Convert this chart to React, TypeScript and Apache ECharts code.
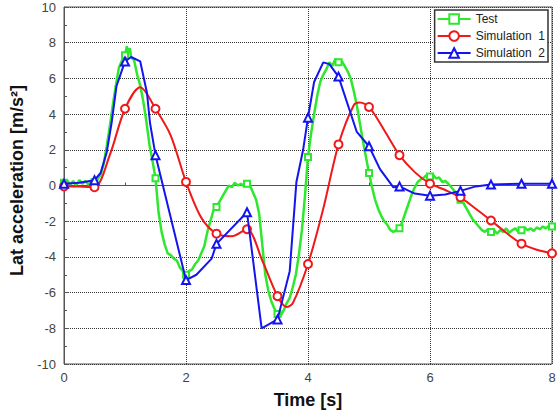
import React, { useEffect, useRef } from "react";
import * as echarts from "echarts";

// Measured lateral acceleration (dense, noisy)
const testTime = [
  0, 0.05, 0.1, 0.15, 0.2, 0.25, 0.3, 0.35, 0.4, 0.45, 0.5, 0.55, 0.6, 0.65, 0.7, 0.75, 0.8, 0.85, 0.9, 0.95,
  1.0, 1.03, 1.05, 1.08, 1.1, 1.15, 1.2, 1.25, 1.3, 1.35, 1.4, 1.45, 1.5, 1.55, 1.6, 1.65, 1.7, 1.75, 1.8, 1.85,
  1.9, 1.95, 2.0, 2.05, 2.1, 2.15, 2.2, 2.25, 2.3, 2.35, 2.4, 2.45, 2.5, 2.55, 2.6, 2.65, 2.7, 2.75, 2.8, 2.85,
  2.9, 2.95, 3.0, 3.05, 3.1, 3.15, 3.2, 3.25, 3.3, 3.35, 3.4, 3.45, 3.5, 3.55, 3.6, 3.65, 3.7, 3.75, 3.8, 3.85,
  3.9, 3.95, 4.0, 4.05, 4.1, 4.15, 4.2, 4.25, 4.3, 4.35, 4.4, 4.45, 4.5, 4.55, 4.6, 4.65, 4.7, 4.75, 4.8, 4.85,
  4.9, 4.95, 5.0, 5.05, 5.1, 5.15, 5.2, 5.25, 5.3, 5.35, 5.4, 5.45, 5.5, 5.55, 5.6, 5.65, 5.7, 5.75, 5.8, 5.85,
  5.9, 5.95, 6.0, 6.05, 6.1, 6.15, 6.2, 6.25, 6.3, 6.35, 6.4, 6.45, 6.5, 6.55, 6.6, 6.65, 6.7, 6.75, 6.8, 6.85,
  6.9, 6.95, 7.0, 7.05, 7.1, 7.15, 7.2, 7.25, 7.3, 7.35, 7.4, 7.45, 7.5, 7.55, 7.6, 7.65, 7.7, 7.75, 7.8, 7.85,
  7.9, 7.95, 8.0,
];
const testAcc = [
  0.15, 0.3, 0.05, 0.25, 0.0, 0.3, 0.1, 0.25, 0.05, 0.2, 0.2, 0.35, 0.6, 1.2, 2.2, 3.3, 4.5, 5.6, 6.6, 7.0,
  7.3, 7.8, 7.4, 7.7, 7.2, 7.0, 6.2, 5.6, 4.7, 3.6, 2.3, 1.4, 0.4, -1.5, -2.6, -3.3, -3.8, -3.9, -4.1, -4.2,
  -4.6, -4.8, -5.0, -4.8, -4.7, -4.4, -4.2, -3.8, -3.4, -2.6, -2.0, -1.4, -1.2, -0.9, -0.6, -0.3, 0.0, -0.1, 0.15, 0.0,
  0.1, -0.05, 0.1, 0.0, -0.4, -0.8, -1.6, -3.3, -5.0, -5.9, -6.5, -6.9, -7.2, -7.3, -7.0, -6.6, -6.3, -5.7, -5.0, -3.9,
  -2.5, -0.6, 1.6, 2.9, 4.0, 5.0, 5.8, 6.2, 6.5, 6.9, 6.7, 7.1, 6.9, 7.0, 6.7, 6.4, 6.0, 5.3, 4.5, 3.5,
  2.5, 1.6, 0.7, -0.1, -0.8, -1.3, -1.7, -2.0, -2.2, -2.5, -2.6, -2.5, -2.4, -2.0, -1.5, -1.0, -0.5, -0.1, 0.2, 0.35,
  0.45, 0.6, 0.5, 0.6, 0.4, 0.45, 0.2, 0.25, 0.1, -0.1, -0.3, -0.6, -0.8, -1.0, -1.3, -1.6, -1.9, -2.1, -2.3, -2.5,
  -2.6, -2.45, -2.6, -2.5, -2.7, -2.5, -2.6, -2.4, -2.65, -2.5, -2.4, -2.6, -2.5, -2.35, -2.5, -2.4, -2.55, -2.35, -2.45, -2.3,
  -2.4, -2.25, -2.3,
];

// Simulation 1 (smooth response)
const sim1Time = [
  0, 0.25, 0.5, 0.75, 1.0, 1.25, 1.5, 1.75, 2.0, 2.25, 2.5, 2.75, 3.0, 3.25, 3.5, 3.65, 3.75, 4.0,
  4.25, 4.5, 4.75, 4.85, 5.0, 5.25, 5.5, 5.75, 6.0, 6.25, 6.5, 6.75, 7.0, 7.25, 7.5, 7.75, 8.0,
];
const sim1Acc = [
  -0.05, -0.05, -0.1, 1.7, 4.3, 5.5, 4.3, 2.8, 0.2, -1.8, -2.7, -2.85, -2.45, -4.2, -6.2, -6.8, -6.6, -4.4,
  -1.3, 2.3, 4.5, 4.65, 4.4, 3.1, 1.7, 0.75, 0.1, -0.25, -0.66, -1.3, -1.96, -2.65, -3.26, -3.6, -3.8,
];

// Simulation 2 (piecewise response)
const sim2Time = [
  0, 0.25, 0.5, 0.6, 0.7, 0.78, 0.86, 1.0, 1.1, 1.25, 1.36, 1.41, 1.5, 2.0, 2.17, 2.42, 2.5, 3.0,
  3.24, 3.5, 3.7, 3.81, 3.92, 4.0, 4.1, 4.25, 4.35, 4.5, 4.8, 5.0, 5.18, 5.4, 5.5, 5.75, 6.0, 6.25,
  6.5, 6.75, 7.0, 7.5, 8.0,
];
const sim2Acc = [
  0.1, 0.15, 0.3, 0.7, 1.85, 3.5, 5.56, 6.95, 7.2, 6.95, 5.2, 3.5, 1.7, -5.3, -5.0, -4.1, -3.27, -1.5,
  -8.0, -7.5, -4.8, 0.2, 2.0, 3.8, 5.8, 6.9, 6.8, 6.1, 3.0, 2.2, 0.92, -0.1, -0.05, -0.45, -0.57, -0.5,
  -0.3, -0.05, 0.05, 0.1, 0.1,
];

const seriesNames = ["Test", "Simulation  1", "Simulation  2"];
const seriesColors = ["#2ee82e", "#f01818", "#1414f0"];
const xTicks = [0, 2, 4, 6, 8];

const pairs = (xs: number[], ys: number[]) => xs.map((x, i) => [x, ys[i]]);
// markers every half second
const onHalfSecond = (t: number) => Math.abs(t * 2 - Math.round(t * 2)) < 1e-6;

const FONT = 'Arial, "Liberation Sans", sans-serif';

export default function App() {
  const ref = useRef<HTMLDivElement>(null);

  useEffect(() => {
    document.body.style.margin = "0";
    if (!ref.current) return;
    const chart = echarts.init(ref.current, undefined, { renderer: "svg" });

    const lineSeries = (
      idx: number,
      data: number[][],
      symbol: string,
      size: number,
      smooth: number | boolean,
      width: number
    ) => ({
      name: seriesNames[idx],
      type: "line",
      data,
      smooth,
      symbol,
      showAllSymbol: true,
      symbolSize: (v: number[]) => (onHalfSecond(v[0]) ? size : 0),
      lineStyle: { color: seriesColors[idx], width },
      itemStyle: { color: seriesColors[idx], borderWidth: 1.5 },
      z: 2 + idx,
    });

    chart.setOption({
      animation: false,
      backgroundColor: "#ffffff",
      textStyle: { fontFamily: FONT },
      grid: {
        left: 64,
        right: 8,
        top: 7,
        bottom: 48,
        show: true,
        borderColor: "#555",
        borderWidth: 1,
      },
      legend: {
        orient: "vertical",
        right: 12,
        top: 10,
        itemWidth: 33,
        itemHeight: 12,
        itemGap: 5,
        padding: [3, 3, 3, 2],
        borderColor: "#333",
        borderWidth: 1.5,
        backgroundColor: "#fff",
        textStyle: { fontSize: 12, color: "#222", fontFamily: FONT },
        // keep the double gap before the run number visible
        formatter: (name: string) => name.replace(/ /g, "\u00a0"),
        data: seriesNames,
      },
      xAxis: {
        type: "value",
        min: 0,
        max: 8,
        interval: 2,
        name: "Time [s]",
        nameLocation: "middle",
        nameGap: 27,
        nameTextStyle: { fontSize: 18, fontWeight: "bold", color: "#111", fontFamily: FONT },
        axisLine: { lineStyle: { color: "#555", width: 1 } },
        axisTick: { inside: true, length: 5, lineStyle: { color: "#555" } },
        minorTick: { show: true, splitNumber: 2, length: 3, lineStyle: { color: "#555" } },
        axisLabel: {
          fontSize: 13,
          color: "#444",
          margin: 7,
          formatter: (v: number) => (xTicks.includes(v) ? String(v) : ""),
        },
        splitLine: { show: true, lineStyle: { color: "#333", type: "dotted", width: 1 } },
      },
      yAxis: {
        type: "value",
        min: -10,
        max: 10,
        interval: 2,
        name: "Lat acceleration [m/s²]",
        nameLocation: "middle",
        nameGap: 38,
        nameTextStyle: {
          fontSize: 18,
          fontWeight: "bold",
          color: "#111",
          fontFamily: FONT,
          padding: [0, 0, 0, 10],
        },
        axisLine: { show: true, lineStyle: { color: "#555", width: 1 } },
        axisTick: { show: true, inside: true, length: 5, lineStyle: { color: "#555" } },
        minorTick: { show: true, splitNumber: 2, length: 3, lineStyle: { color: "#555" } },
        axisLabel: { fontSize: 13, color: "#444", margin: 8 },
        splitLine: { show: true, lineStyle: { color: "#333", type: "dotted", width: 1 } },
      },
      series: [
        lineSeries(0, pairs(testTime, testAcc), "emptyRect", 6, false, 2.5),
        lineSeries(1, pairs(sim1Time, sim1Acc), "emptyCircle", 8, 0.3, 2),
        lineSeries(2, pairs(sim2Time, sim2Acc), "emptyTriangle", 8, false, 2),
      ],
    });

    return () => chart.dispose();
  }, []);

  return <div ref={ref} style={{ width: 560, height: 414 }} />;
}
